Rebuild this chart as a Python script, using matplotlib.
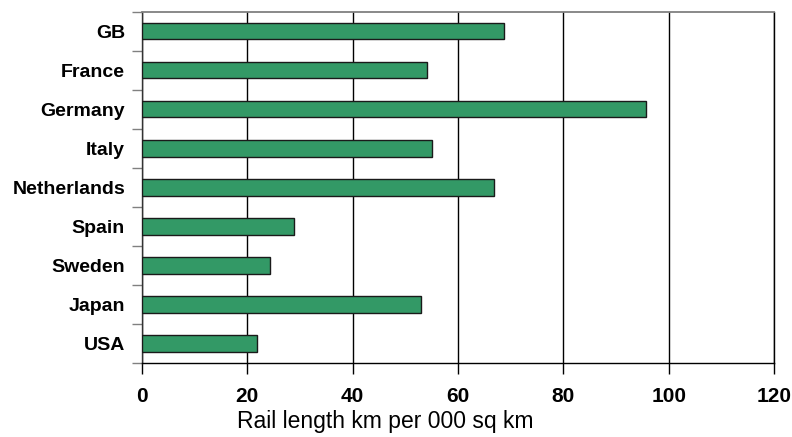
import numpy as np
import matplotlib.pyplot as plt
from matplotlib import font_manager

# rail network density by country
countries = ["GB", "France", "Germany", "Italy", "Netherlands", "Spain", "Sweden", "Japan", "USA"]
rail_density = [68.7, 54.2, 95.6, 55.1, 66.9, 28.9, 24.4, 53.0, 21.9]
x_ticks = [0, 20, 40, 60, 80, 100, 120]

names = {f.name for f in font_manager.fontManager.ttflist}
narrow = "Liberation Sans Narrow" if "Liberation Sans Narrow" in names else "Liberation Sans"

plt.rcParams["font.family"] = ["Liberation Sans", "DejaVu Sans"]

fig = plt.figure(figsize=(7.92, 4.37), dpi=100)
ax = fig.add_axes([0.179, 0.1693, 0.7987, 0.8039])

y = np.arange(len(countries))
ax.barh(y, rail_density, height=0.42, color="#339966", edgecolor="#1a1a1a",
        linewidth=1.0, zorder=3)

ax.set_xlim(0, 120)
ax.set_ylim(len(countries) - 0.5, -0.5)
ax.set_xticks(x_ticks)
ax.set_xticklabels([str(t) for t in x_ticks], fontsize=15, fontweight="bold")
ax.tick_params(axis="x", direction="out", length=8, width=1, color="black", pad=9)

# category labels centred on bars, tick marks at the category boundaries
ax.set_yticks(y)
ax.set_yticklabels(countries, fontsize=14, fontweight="bold")
ax.tick_params(axis="y", length=0, pad=12)
ax.set_yticks(np.arange(len(countries) + 1) - 0.5, minor=True)
ax.tick_params(axis="y", which="minor", direction="out", length=7, width=1, color="#808080")

ax.grid(axis="x", color="black", linewidth=1, zorder=0)

for side in ["left", "bottom", "right"]:
    ax.spines[side].set_color("black")
    ax.spines[side].set_linewidth(1)
ax.spines["top"].set_color("#808080")
ax.spines["top"].set_linewidth(1.3)
ax.spines["left"].set_color("#333333")

fs = 18 if narrow != "Liberation Sans" else 16.5
ax.set_xlabel("Rail length km per 000 sq km", fontsize=fs, family=narrow)
ax.xaxis.set_label_coords(0.385, -0.135)

fig.savefig("out.png", dpi=100)
